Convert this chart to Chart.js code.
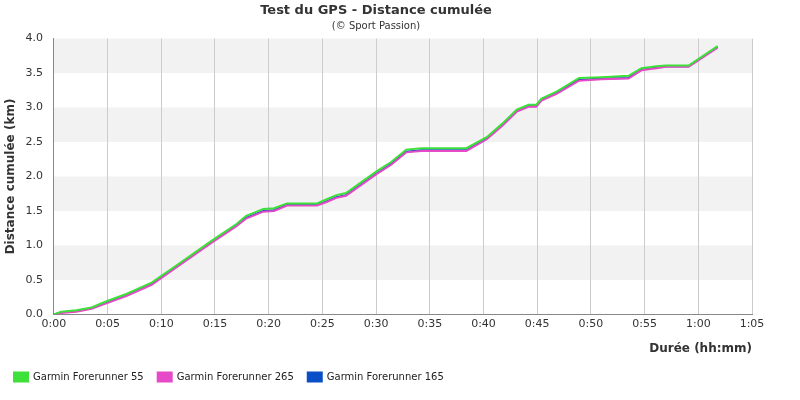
<!DOCTYPE html>
<html><head><meta charset="utf-8">
<script src="https://cdn.jsdelivr.net/npm/chart.js@4/dist/chart.umd.min.js"></script>
<style>body{margin:0;background:#fff}#w{width:800px;height:400px}</style>
</head><body><div id="w"><canvas id="c"></canvas></div>
<script>
const minutes = [0,0.7,2.1,3.5,4.9,6.8,9.1,11.4,14.7,17.0,17.9,19.5,20.5,21.7,24.5,25.4,26.3,27.2,30.0,31.4,32.8,34.2,38.4,40.3,41.7,43.1,44.2,44.9,45.4,46.8,48.9,51.0,53.5,54.7,56.1,57.0,59.1,61.8];
const fr55 =  [0,0.04,0.06,0.10,0.19,0.30,0.46,0.71,1.07,1.31,1.43,1.53,1.54,1.61,1.61,1.67,1.73,1.76,2.07,2.21,2.39,2.41,2.41,2.57,2.76,2.97,3.04,3.04,3.13,3.23,3.43,3.44,3.46,3.57,3.60,3.61,3.61,3.89];
const fr165 = [0,0.03,0.05,0.09,0.17,0.28,0.44,0.69,1.05,1.29,1.40,1.50,1.51,1.59,1.59,1.64,1.70,1.73,2.04,2.18,2.36,2.38,2.38,2.55,2.74,2.95,3.02,3.02,3.11,3.21,3.40,3.42,3.43,3.55,3.58,3.60,3.60,3.88];
const fr265 = [0,0.02,0.04,0.08,0.16,0.27,0.43,0.68,1.04,1.28,1.39,1.49,1.50,1.58,1.58,1.63,1.69,1.72,2.03,2.17,2.35,2.37,2.37,2.54,2.73,2.94,3.01,3.01,3.10,3.20,3.39,3.41,3.42,3.54,3.57,3.59,3.59,3.87];
const seriesNames = ['Garmin Forerunner 165','Garmin Forerunner 265','Garmin Forerunner 55'];
const colors = ['#0a4fc8','#e64ac8','#3ee03a'];
const bands = [[0.5,1.0],[1.5,2.0],[2.5,3.0],[3.5,4.0]];
const pts = a => minutes.map((m,i)=>({x:m,y:a[i]}));
const fmt = v => { const h=Math.floor(v/60), m=Math.round(v%60); return h+':'+String(m).padStart(2,'0'); };
const bandPlugin = {id:'bands',beforeDraw(ch){const {ctx,chartArea:a,scales:{y}}=ch;ctx.save();ctx.fillStyle='#f2f2f2';
 bands.forEach(([lo,hi])=>{const t=y.getPixelForValue(hi),b=y.getPixelForValue(lo);ctx.fillRect(a.left,t,a.right-a.left,b-t);});ctx.restore();}};
new Chart(document.getElementById('c'),{type:'line',
 data:{datasets:[
  {label:seriesNames[0],data:pts(fr165),borderColor:colors[0],backgroundColor:colors[0],order:3},
  {label:seriesNames[1],data:pts(fr265),borderColor:colors[1],backgroundColor:colors[1],order:2},
  {label:seriesNames[2],data:pts(fr55),borderColor:colors[2],backgroundColor:colors[2],order:1}]},
 options:{responsive:true,maintainAspectRatio:false,animation:false,
  elements:{point:{radius:0},line:{borderWidth:2,tension:0}},
  layout:{padding:{left:0,right:48,top:0,bottom:8}},
  plugins:{
   title:{display:true,text:'Test du GPS - Distance cumulée',color:'#333',font:{family:'DejaVu Sans',size:13,weight:'bold'},padding:{top:3,bottom:0}},
   subtitle:{display:true,text:'(© Sport Passion)',color:'#333',font:{family:'DejaVu Sans',size:10},padding:{top:2,bottom:6}},
   legend:{position:'bottom',align:'start',sort:(a,b)=>a.datasetIndex-b.datasetIndex,
     labels:{boxWidth:14,boxHeight:9,padding:14,color:'#222',font:{family:'DejaVu Sans',size:10}}},
   tooltip:{enabled:false}},
  scales:{
   x:{type:'linear',min:0,max:65,ticks:{stepSize:5,callback:fmt,color:'#333',font:{family:'DejaVu Sans',size:11}},
      grid:{color:'#cccccc',drawTicks:false},border:{color:'#888'},
      title:{display:true,text:'Durée (hh:mm)',align:'end',color:'#333',font:{family:'DejaVu Sans',size:12,weight:'bold'},padding:{top:8,bottom:2}}},
   y:{min:0,max:4,ticks:{stepSize:0.5,callback:v=>v.toFixed(1),color:'#333',font:{family:'DejaVu Sans',size:11}},
      grid:{display:false},border:{color:'#888'},
      title:{display:true,text:'Distance cumulée (km)',color:'#333',font:{family:'DejaVu Sans',size:12,weight:'bold'}}}}},
 plugins:[bandPlugin]});
</script></body></html>
